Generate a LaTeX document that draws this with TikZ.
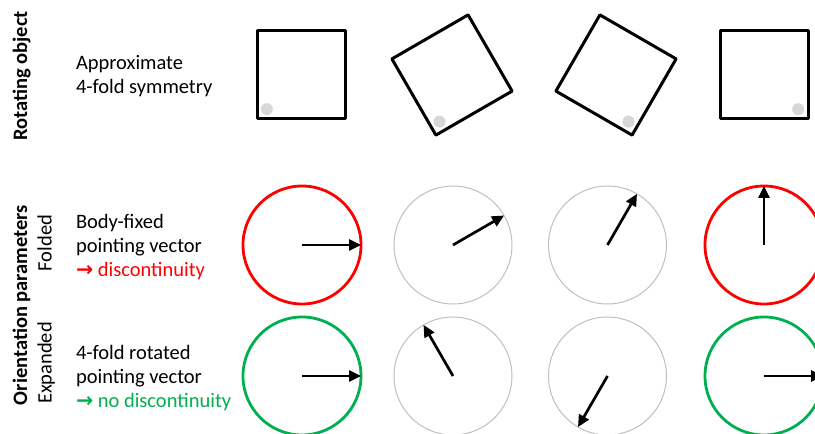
\documentclass[tikz,border=0pt]{standalone}
\usepackage{fontspec}
\setmainfont{Carlito}
\newfontfamily\symfont{DejaVu Sans}
\usetikzlibrary{arrows.meta,calc}
\definecolor{pred}{RGB}{255,0,0}
\definecolor{pgreen}{RGB}{0,176,80}
\definecolor{ringgray}{RGB}{191,191,191}
\definecolor{dotgray}{RGB}{215,215,215}
\newcommand{\rarr}{{\symfont\bfseries\fontsize{20.5}{24}\selectfont →}}
\begin{document}
\begin{tikzpicture}[x=1pt,y=1pt,
  lbl/.style={font=\fontsize{20.5}{24}\selectfont, inner sep=0pt, outer sep=0pt, anchor=base west},
  vlbl/.style={font=\fontsize{20.5}{24}\selectfont, inner sep=0pt, rotate=90, anchor=base},
  sq/.style={draw, line width=3pt, minimum size=88pt, inner sep=0pt, outer sep=0pt, line join=round},
  dot/.style={circle, fill=dotgray, minimum size=12pt, inner sep=0pt},
  ring/.style={circle, minimum size=118pt, inner sep=0pt, outer sep=0pt},
  redring/.style={ring, draw=pred, line width=2.8pt},
  greenring/.style={ring, draw=pgreen, line width=2.8pt},
  grayring/.style={ring, draw=ringgray, line width=1pt},
  vec/.style={line width=2.7pt, -{Triangle[length=12pt,width=11pt]}}]
\useasboundingbox (0,0) rectangle (815,434);
\clip (0,0) rectangle (815,434);

% left labels
\node[vlbl, font=\fontsize{20.5}{24}\selectfont\bfseries] (rot) at (27,358) {Rotating object};
\node[vlbl, font=\fontsize{20.5}{24}\selectfont\bfseries] (ori) at (27,129) {Orientation parameters};
\node[vlbl] (fol) at (51.5,191) {Folded};
\node[vlbl] (exp) at (51.5,71) {Expanded};

\node[lbl] (l1) at (76,364) {\begin{tabular}[t]{@{}l@{}}Approximate\\4-fold symmetry\end{tabular}};
\node[lbl] (l2) at (76,205) {\begin{tabular}[t]{@{}l@{}}Body-fixed\\pointing vector\\\textcolor{pred}{\rarr\ discontinuity}\end{tabular}};
\node[lbl] (l3) at (76,74.5) {\begin{tabular}[t]{@{}l@{}}4-fold rotated\\pointing vector\\\textcolor{pgreen}{\rarr\ no discontinuity}\end{tabular}};

% rotating squares
\node[sq] (s1) at (301,359) {};
\node[sq, rotate=30] (s2) at (452,359) {};
\node[sq, rotate=60] (s3) at (616,359) {};
\node[sq, rotate=90] (s4) at (764,359) {};
\foreach \i in {1,2,3,4}
  \node[dot] (d\i) at ($(s\i.center)!0.776!(s\i.south west)$) {};

% folded row
\node[redring] (f1) at (302,189) {};
\node[grayring] (f2) at (453,189) {};
\node[grayring] (f3) at (607.5,189) {};
\node[redring] (f4) at (764,189) {};
\draw[vec] (f1.center) -- (f1.0);
\draw[vec] (f2.center) -- (f2.30);
\draw[vec] (f3.center) -- (f3.60);
\draw[vec] (f4.center) -- (f4.90);

% expanded row
\node[greenring] (e1) at (302,58) {};
\node[grayring] (e2) at (453,58) {};
\node[grayring] (e3) at (607.5,58) {};
\node[greenring] (e4) at (764,58) {};
\draw[vec] (e1.center) -- (e1.0);
\draw[vec] (e2.center) -- (e2.120);
\draw[vec] (e3.center) -- (e3.240);
\draw[vec] (e4.center) -- (e4.0);
\end{tikzpicture}
\end{document}
